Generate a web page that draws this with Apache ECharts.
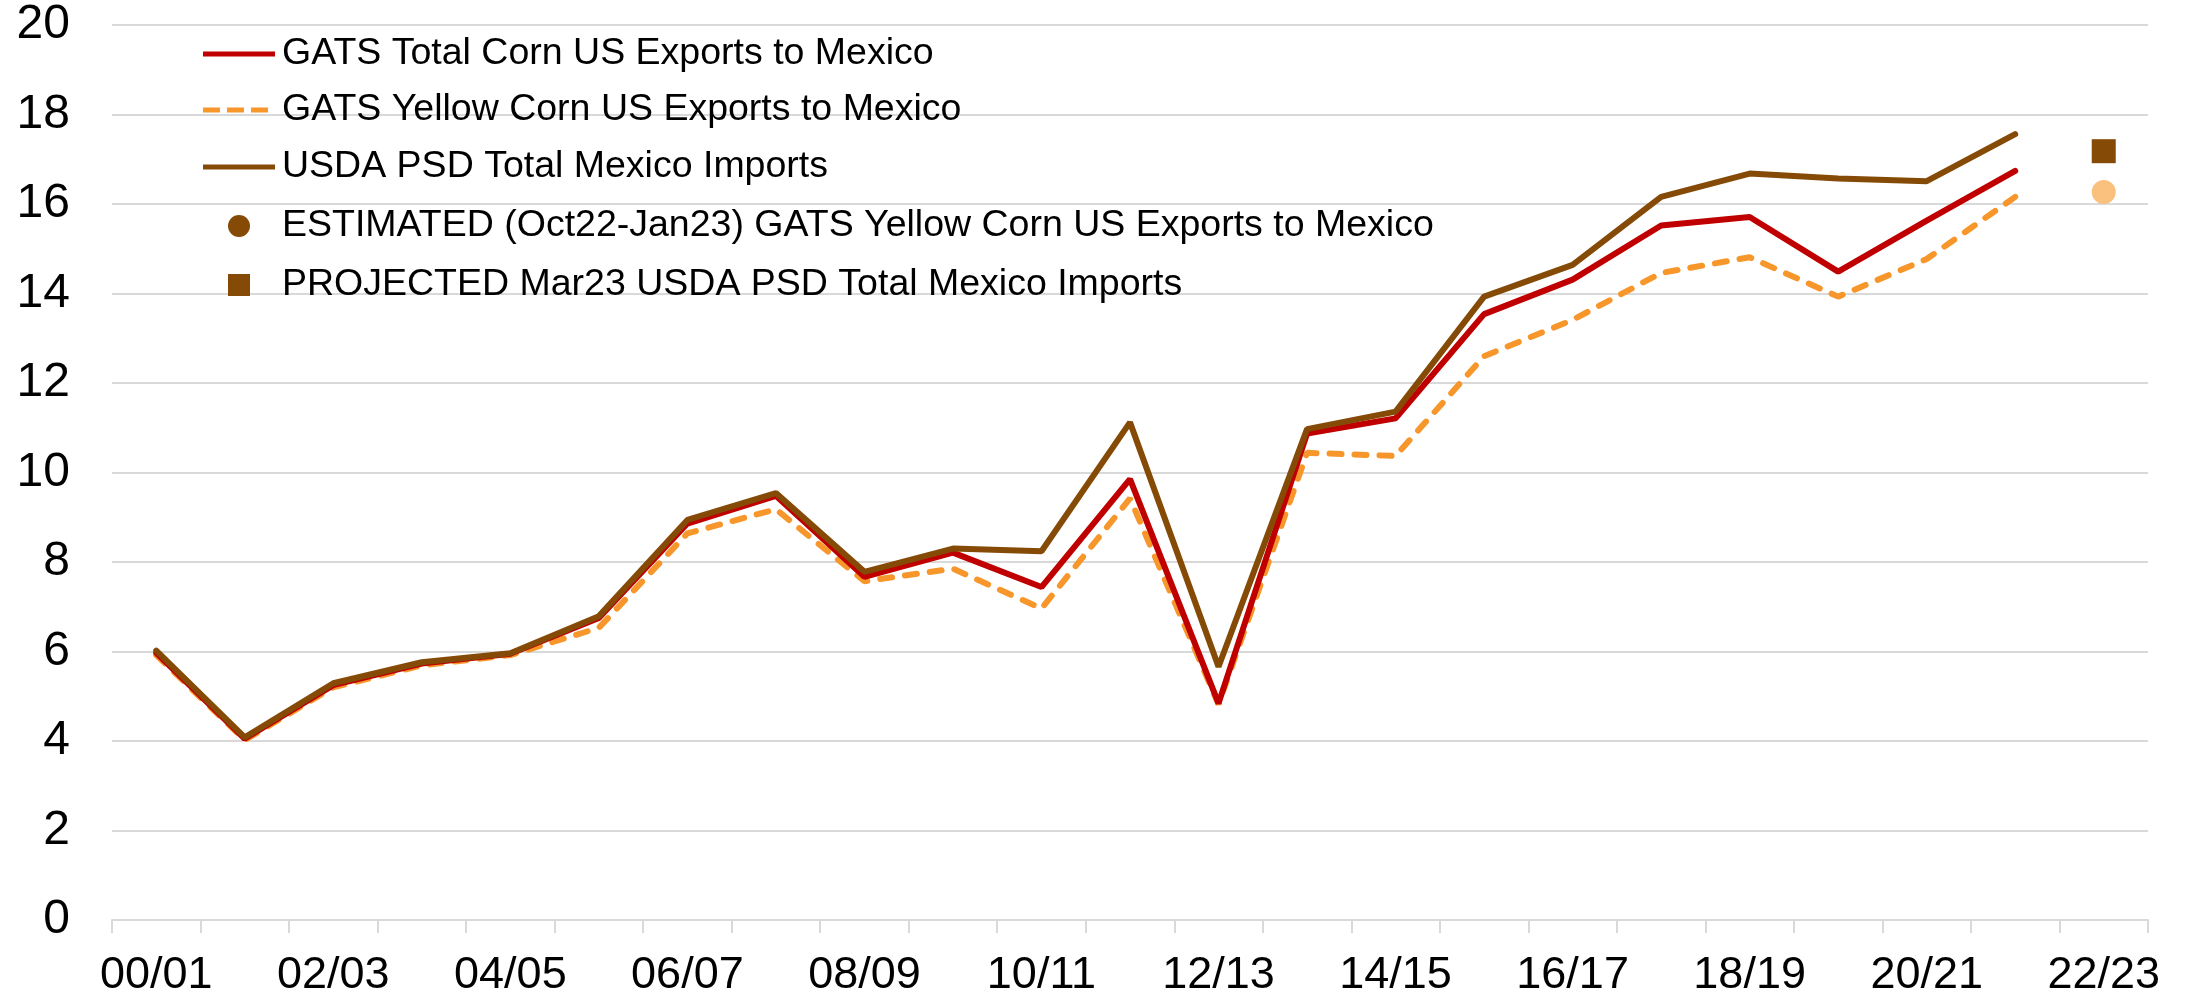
<!DOCTYPE html>
<html>
<head>
<meta charset="utf-8">
<script src="https://cdn.jsdelivr.net/npm/echarts@6/dist/echarts.min.js"></script>
<style>
html,body{margin:0;padding:0;background:#fff;}
#chart{width:2193px;height:1004px;}
</style>
</head>
<body>
<div id="chart"></div>
<script>
const categories = ['00/01','01/02','02/03','03/04','04/05','05/06','06/07','07/08','08/09','09/10','10/11','11/12','12/13','13/14','14/15','15/16','16/17','17/18','18/19','19/20','20/21','21/22','22/23'];
const gatsTotal = [5.97, 4.05, 5.25, 5.73, 5.95, 6.75, 8.86, 9.48, 7.67, 8.21, 7.44, 9.85, 4.84, 10.87, 11.21, 13.54, 14.31, 15.52, 15.71, 14.49, 15.63, 16.74, null];
const gatsYellow = [5.92, 4.02, 5.20, 5.69, 5.92, 6.53, 8.64, 9.18, 7.57, 7.85, 6.96, 9.42, 4.82, 10.44, 10.37, 12.60, 13.41, 14.46, 14.81, 13.93, 14.77, 16.16, null];
const psdImports = [6.02, 4.08, 5.29, 5.76, 5.96, 6.79, 8.94, 9.54, 7.78, 8.30, 8.24, 11.12, 5.66, 10.97, 11.36, 13.93, 14.64, 16.16, 16.68, 16.57, 16.51, 17.56, null];
const estimatedYellow = [null, null, null, null, null, null, null, null, null, null, null, null, null, null, null, null, null, null, null, null, null, null, 16.27];
const projectedPsd = [null, null, null, null, null, null, null, null, null, null, null, null, null, null, null, null, null, null, null, null, null, null, 17.18];
const yTicks = {min: 0, max: 20, interval: 2};

const names = [
  'GATS Total Corn US Exports to Mexico',
  'GATS Yellow Corn US Exports to Mexico',
  'USDA PSD Total Mexico Imports',
  'ESTIMATED (Oct22-Jan23) GATS Yellow Corn US Exports to Mexico',
  'PROJECTED Mar23 USDA PSD Total Mexico Imports'
];
const RED = '#C00000', ORANGE = '#F7962A', BROWN = '#854A05', LIGHT = '#FAC07E';
const FONT = '"Liberation Sans", Arial, sans-serif';

const solidIcon = 'path://M0,0 H72 V5 H0 Z';
const dashIcon = 'path://M0,0 H17 V5 H0 Z M24,0 H41 V5 H24 Z M48,0 H65 V5 H48 Z';
const squareIcon = 'path://M0,0 H10 V10 H0 Z';

function mkLegend(name, left, top, icon, color, w, h, pad) {
  return {
    orient: 'vertical', left: left, top: top, padding: 0,
    itemWidth: w, itemHeight: h,
    selectedMode: false,
    textStyle: {fontSize: 37.5, color: '#000', fontFamily: FONT, padding: [0, 0, 0, pad]},
    data: [{name: name, icon: icon, itemStyle: {color: color, opacity: 1}}]
  };
}

const chart = echarts.init(document.getElementById('chart'), null, {renderer: 'canvas'});
chart.setOption({
  animation: false,
  backgroundColor: '#fff',
  textStyle: {fontFamily: FONT},
  grid: {left: 112, right: 45, top: 25, bottom: 84, containLabel: false},
  legend: [
    mkLegend(names[0], 203, 35, solidIcon, RED, 72, 5, 2),
    mkLegend(names[1], 203, 91, dashIcon, ORANGE, 65, 5, 9),
    mkLegend(names[2], 203, 148, solidIcon, BROWN, 72, 5, 2),
    mkLegend(names[3], 228, 207, 'circle', BROWN, 72, 22, 2),
    mkLegend(names[4], 228, 266, squareIcon, BROWN, 72, 22, 2)
  ],
  xAxis: {
    type: 'category',
    data: categories,
    boundaryGap: true,
    axisLine: {show: true, lineStyle: {color: '#D9D9D9', width: 2}},
    axisTick: {show: true, interval: 0, length: 13, lineStyle: {color: '#D9D9D9', width: 2}},
    axisLabel: {interval: 1, fontSize: 45, color: '#000', margin: 33, fontFamily: FONT},
    splitLine: {show: false}
  },
  yAxis: {
    type: 'value',
    min: yTicks.min, max: yTicks.max, interval: yTicks.interval,
    axisLine: {show: false},
    axisTick: {show: false},
    axisLabel: {fontSize: 48, color: '#000', margin: 42, fontFamily: FONT},
    splitLine: {show: true, lineStyle: {color: '#D9D9D9', width: 2}}
  },
  series: [
    {
      name: names[1], type: 'line', data: gatsYellow, symbol: 'none', z: 2,
      lineStyle: {color: ORANGE, width: 6, type: [12, 13], cap: 'round'},
      itemStyle: {color: ORANGE}
    },
    {
      name: names[0], type: 'line', data: gatsTotal, symbol: 'none', z: 3,
      lineStyle: {color: RED, width: 6, cap: 'round'},
      itemStyle: {color: RED}
    },
    {
      name: names[2], type: 'line', data: psdImports, symbol: 'none', z: 4,
      lineStyle: {color: BROWN, width: 6, cap: 'round'},
      itemStyle: {color: BROWN}
    },
    {
      name: names[3], type: 'scatter', data: estimatedYellow, symbol: 'circle', symbolSize: 24, z: 5,
      itemStyle: {color: LIGHT, opacity: 1}
    },
    {
      name: names[4], type: 'scatter', data: projectedPsd, symbol: 'rect', symbolSize: 24, z: 5,
      itemStyle: {color: BROWN, opacity: 1}
    }
  ]
});
</script>
</body>
</html>
